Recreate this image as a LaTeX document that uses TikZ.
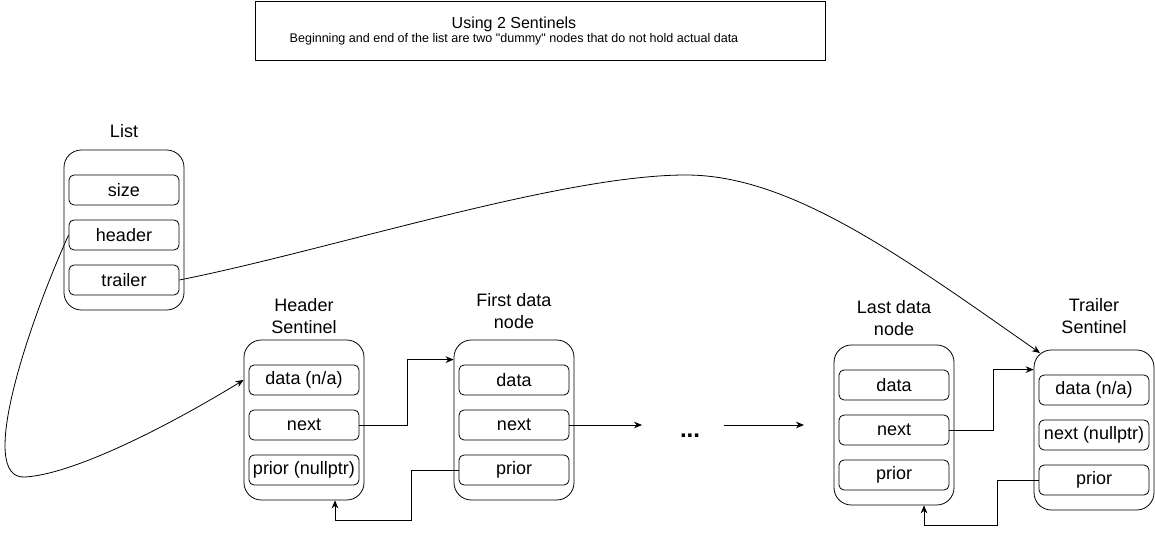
\documentclass[tikz,border=0pt]{standalone}
\usepackage{fontspec}
\setmainfont{Liberation Sans}[Ligatures=TeXOff]
\usetikzlibrary{arrows.meta}
\tikzset{cell/.style = {draw, rounded corners=3.75pt, minimum width=82.5pt, minimum height=22.5pt, inner sep=0pt, font=\fontsize{13.5}{16}\selectfont}}
\tikzset{holder/.style = {draw, rounded corners=13pt, minimum width=90pt, minimum height=120pt, inner sep=0pt}}
\tikzset{caption/.style = {align=center, inner sep=0pt, font=\fontsize{13.5}{16.5}\selectfont}}
\tikzset{link/.style = {-{Stealth[length=6pt, width=5pt]}}}

\begin{document}
\begin{tikzpicture}[x=0.75pt, y=-0.75pt, line width=0.6pt]
\useasboundingbox (0,0) rectangle (1155,534);
\node[draw, minimum width=427.5pt, minimum height=44.25pt] (title) at (540,30.5) {};
\node[align=center, inner sep=0pt, font=\fontsize{9.4}{9.8}\selectfont] (titletext) at (514,31)
  {{\fontsize{12}{12}\selectfont Using 2 Sentinels}\\Beginning and end of the list are two "dummy" nodes that do not hold actual data};
% the list object
\node[caption] (listlbl) at (124,131) {List};
\node[holder] (list) at (124,230) {};
\node[cell] (size) at (124,190) {size};
\node[cell] (header) at (124,235) {header};
\node[cell] (trailer) at (124,280) {trailer};
% header sentinel
\node[caption] (hslbl) at (304,316) {Header\\Sentinel};
\node[holder] (hs) at (304,420) {};
\node[cell] (hsdata) at (304,380) {data (n/a)};
\node[cell] (hsnext) at (304,425) {next};
\node[cell] (hsprior) at (304,470) {prior (nullptr)};
% first data node
\node[caption] (fdlbl) at (514,311) {First data\\node};
\node[holder] (fd) at (514,420) {};
\node[cell] (fddata) at (514,380) {data};
\node[cell] (fdnext) at (514,425) {next};
\node[cell] (fdprior) at (514,470) {prior};
% last data node
\node[caption] (ldlbl) at (894,318) {Last data\\node};
\node[holder] (ld) at (894,425) {};
\node[cell] (lddata) at (894,385) {data};
\node[cell] (ldnext) at (894,430) {next};
\node[cell] (ldprior) at (894,475) {prior};
% trailer sentinel
\node[caption] (tslbl) at (1094,316.5) {Trailer\\Sentinel};
\node[holder] (ts) at (1094,430) {};
\node[cell] (tsdata) at (1094,390) {data (n/a)};
\node[cell] (tsnext) at (1094,435) {next (nullptr)};
\node[cell] (tsprior) at (1094,480) {prior};
% the gap
\node[inner sep=0pt, font=\fontsize{18}{18}\selectfont\bfseries] (dots) at (690,436) {...};
\coordinate (gapin) at (642,425);
\coordinate (gapout) at (724,425);
\coordinate (gapend) at (804,425);
\coordinate (tsin) at (1040,353);
% links
\draw[link] (hsnext.east) -- ++(48,0) |- ([yshift=-15pt]fd.north west);
\draw[link] (fdprior.west) -- ++(-47,0) -- ++(0,50) -| ([xshift=23.25pt]hs.south);
\draw[link] (fdnext.east) -- (gapin);
\draw[link] (gapout) -- (gapend);
\draw[link] (ldnext.east) -- ++(44,0) |- ([yshift=-15pt]ts.north west);
\draw[link] (tsprior.west) -- ++(-41,0) -- ++(0,45) -| ([xshift=22.5pt]ld.south);
\draw[link] (header.west) .. controls (30,320) and (-25,480) .. (25,477) .. controls (75,474) and (170,425) .. (hs.west |- hsdata.west);
\draw[link] (trailer.east) .. controls (330,250) and (560,175) .. (686,175) .. controls (790,175) and (900,255) .. (tsin);
\end{tikzpicture}
\end{document}
